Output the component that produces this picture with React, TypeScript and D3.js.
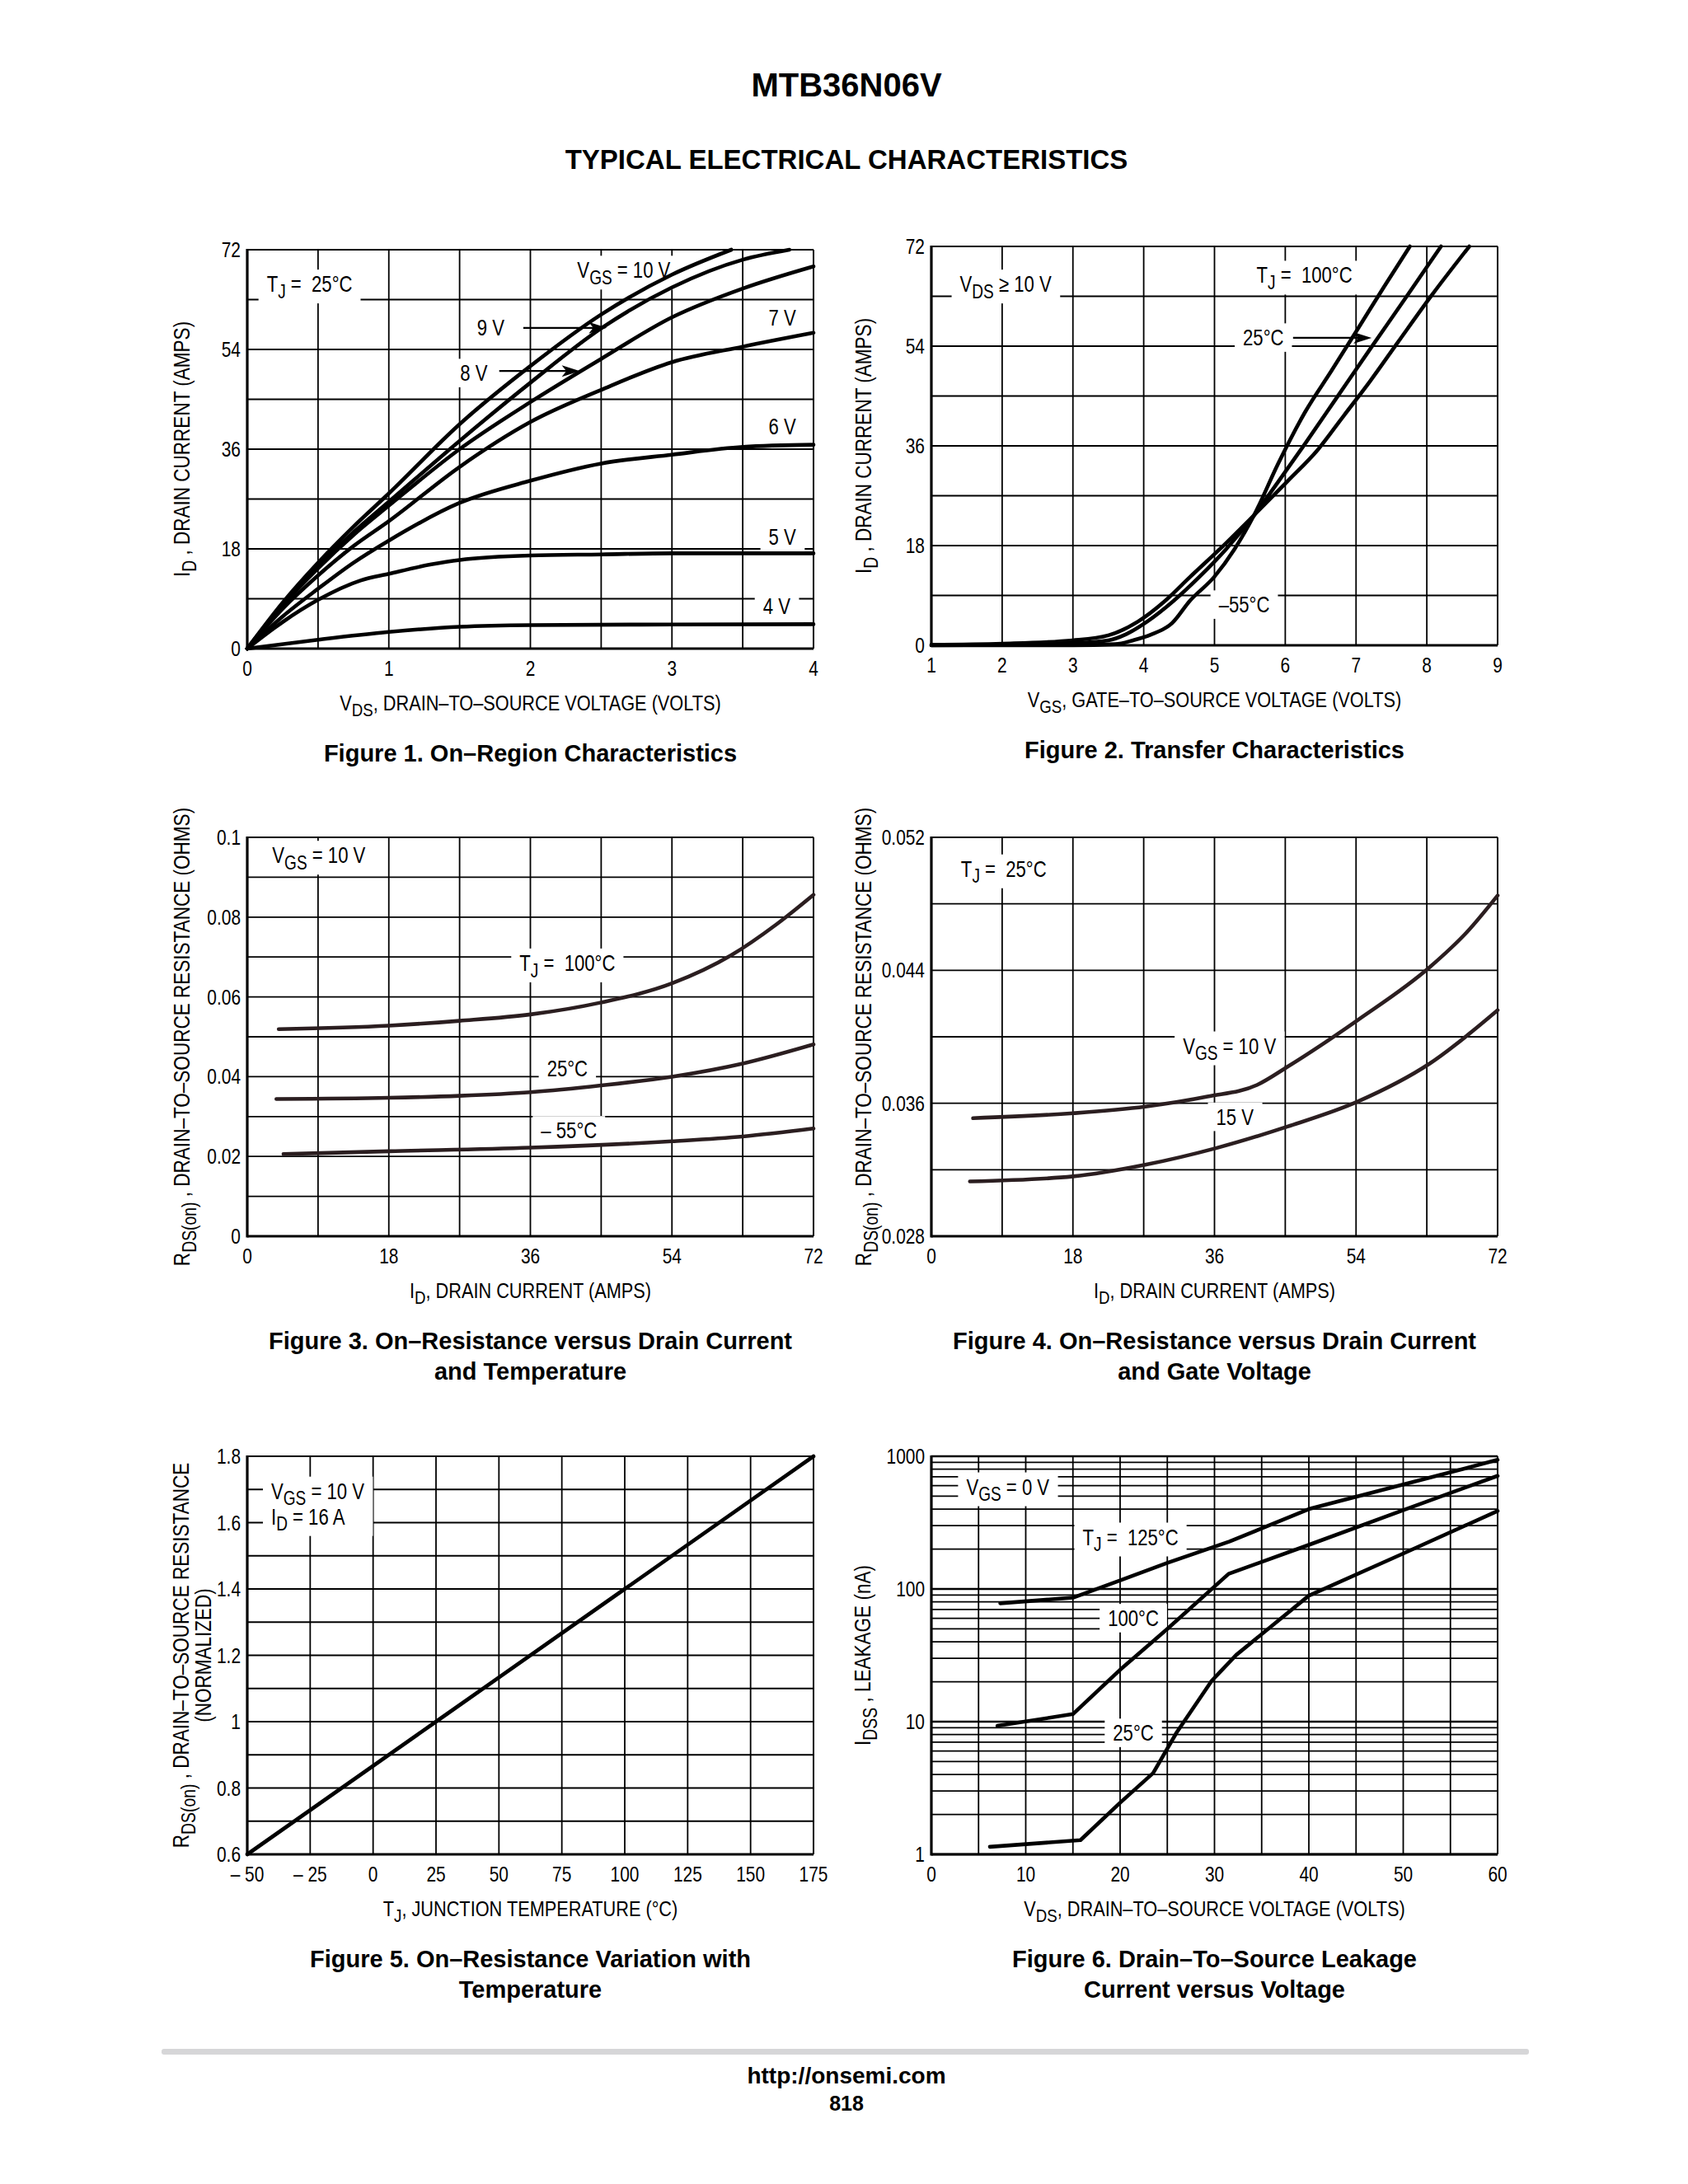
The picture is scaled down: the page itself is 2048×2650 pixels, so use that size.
import * as d3 from "d3";
import { useEffect, useRef } from "react";

type Pt = [number, number];
type Seg = [string, number?];
type Label = { x: number; y: number; segs: Seg[]; group?: string; anchor?: string };
type Arrow = { from: Pt; to: Pt };

const sub = (a: string, b: string, c: string): Seg[] => [[a], [b, 1], [c]];

// ---- Figure 1: on-region characteristics (VDS volts, ID amps)
const f1Vgs10: Pt[] = [[0, 0], [0.25, 8.3], [0.5, 15.5], [0.75, 22], [1, 28], [1.5, 40.5], [2, 51], [2.5, 60.3], [3, 67.5], [3.42, 72]];
const f1Vgs9: Pt[] = [[0, 0], [0.25, 8], [0.5, 15], [0.75, 21], [1, 26.5], [1.5, 37.5], [2, 48], [2.5, 57.8], [3, 65.2], [3.5, 70.2], [3.83, 72]];
const f1Vgs8: Pt[] = [[0, 0], [0.25, 7.8], [0.5, 14.5], [0.75, 20.5], [1, 25.8], [1.5, 36], [2, 44.5], [2.5, 52.3], [3, 59.8], [3.5, 65], [4, 69]];
const f1Vgs7: Pt[] = [[0, 0], [0.25, 7.2], [0.5, 13.2], [0.75, 18.5], [1, 23], [1.5, 32.8], [2, 40.9], [2.5, 46.7], [3, 51.7], [3.5, 54.5], [4, 57]];
const f1Vgs6: Pt[] = [[0, 0], [0.25, 5.8], [0.5, 10.8], [0.75, 15.5], [1, 19.5], [1.5, 26.3], [2, 30.3], [2.5, 33.4], [3, 35], [3.5, 36.4], [4, 36.8]];
const f1Vgs5: Pt[] = [[0, 0], [0.25, 4.8], [0.5, 8.8], [0.8, 12.3], [1, 13.5], [1.3, 15.2], [1.5, 16], [2, 16.8], [2.5, 17], [3, 17.2], [4, 17.2]];
const f1Vgs4: Pt[] = [[0, 0], [0.5, 1.6], [1, 3], [1.5, 3.95], [2, 4.25], [3, 4.35], [4, 4.4]];
const f1XTicks = [0, 1, 2, 3, 4];
const f1YTicks = [0, 18, 36, 54, 72];
const f1Labels: Label[] = [
  { x: 0.44, y: 65.8, segs: sub("T", "J", " =  25°C") },
  { x: 2.66, y: 68.3, segs: sub("V", "GS", " = 10 V") },
  { x: 1.72, y: 57.9, segs: [["9 V"]] },
  { x: 1.6, y: 49.7, segs: [["8 V"]] },
  { x: 3.78, y: 59.7, segs: [["7 V"]] },
  { x: 3.78, y: 40.1, segs: [["6 V"]] },
  { x: 3.78, y: 20.2, segs: [["5 V"]] },
  { x: 3.74, y: 7.7, segs: [["4 V"]] },
];
const f1Arrows: Arrow[] = [
  { from: [1.95, 57.9], to: [2.54, 57.9] },
  { from: [1.78, 50.1], to: [2.35, 50.1] },
];

// ---- Figure 2: transfer characteristics (VGS volts, ID amps)
const f2T100: Pt[] = [[1, 0.1], [2, 0.3], [3, 0.9], [3.5, 1.8], [3.92, 4.3], [4.3, 8], [4.66, 12.4], [5.07, 17.3], [5.56, 23.5], [6.03, 29.6], [6.46, 35.3], [6.83, 41.5], [7.2, 47.7], [7.58, 54.5], [8.07, 63.2], [8.6, 72]];
const f2T25: Pt[] = [[1, 0], [2, 0.1], [3, 0.4], [3.5, 0.9], [3.75, 2], [4.05, 4.3], [4.42, 8], [4.79, 12.4], [5.16, 17.3], [5.56, 23.5], [5.9, 29.5], [6.28, 36.4], [6.7, 44.2], [7.2, 53.5], [7.7, 62.7], [8.2, 72]];
const f2Tm55: Pt[] = [[1, 0], [3, 0], [3.6, 0.2], [3.85, 0.9], [4.1, 1.9], [4.4, 4], [4.65, 8], [5, 12.4], [5.28, 17.3], [5.56, 23.5], [5.9, 32.8], [6.28, 42.1], [6.65, 49.5], [7.02, 57], [7.39, 64.6], [7.76, 72]];
const f2XTicks = [1, 2, 3, 4, 5, 6, 7, 8, 9];
const f2YTicks = [0, 18, 36, 54, 72];
const f2Labels: Label[] = [
  { x: 2.05, y: 65.2, segs: sub("V", "DS", " ≥ 10 V") },
  { x: 6.27, y: 66.8, segs: sub("T", "J", " =  100°C") },
  { x: 5.69, y: 55.5, segs: [["25°C"]] },
  { x: 5.42, y: 7.3, segs: [["–55°C"]] },
];
const f2Arrows: Arrow[] = [{ from: [6.11, 55.5], to: [7.22, 55.5] }];

// ---- Figure 3: on-resistance vs drain current and temperature
const f3T100: Pt[] = [[4, 0.0519], [18, 0.0528], [27, 0.054], [36, 0.0556], [45, 0.0586], [54, 0.0634], [61.5, 0.0704], [67.3, 0.0782], [72, 0.0856]];
const f3T25: Pt[] = [[3.7, 0.0344], [18, 0.0347], [27, 0.0352], [36, 0.0361], [45, 0.0378], [54, 0.04], [63, 0.0433], [72, 0.0481]];
const f3Tm55: Pt[] = [[4.6, 0.0206], [18, 0.0213], [36, 0.0222], [54, 0.0238], [63, 0.025], [72, 0.027]];
const f3XTicks = [0, 18, 36, 54, 72];
const f3YTicks = [0, 0.02, 0.04, 0.06, 0.08, 0.1];
const f3Labels: Label[] = [
  { x: 9.1, y: 0.0955, segs: sub("V", "GS", " = 10 V") },
  { x: 40.7, y: 0.0685, segs: sub("T", "J", " =  100°C") },
  { x: 40.7, y: 0.042, segs: [["25°C"]] },
  { x: 40.9, y: 0.0265, segs: [["– 55°C"]] },
];

// ---- Figure 4: on-resistance vs drain current and gate voltage
const f4V10: Pt[] = [[5.3, 0.0351], [18, 0.0354], [27.2, 0.0358], [35.1, 0.0364], [41.4, 0.0371], [45.3, 0.0382], [54.2, 0.041], [63.4, 0.0442], [68.1, 0.0463], [72, 0.0485]];
const f4V15: Pt[] = [[4.9, 0.0313], [18, 0.0316], [27.2, 0.0323], [36.2, 0.0333], [45.3, 0.0346], [54.2, 0.0361], [63.4, 0.0384], [72, 0.0416]];
const f4XTicks = [0, 18, 36, 54, 72];
const f4YTicks = [0.028, 0.036, 0.044, 0.052];
const f4Labels: Label[] = [
  { x: 9.2, y: 0.0501, segs: sub("T", "J", " =  25°C") },
  { x: 37.9, y: 0.03945, segs: sub("V", "GS", " = 10 V") },
  { x: 38.6, y: 0.03517, segs: [["15 V"]] },
];

// ---- Figure 5: normalized on-resistance vs junction temperature
const f5Line: Pt[] = [[-50, 0.6], [25, 1.0], [100, 1.4], [175, 1.8]];
const f5XTicks = [-50, -25, 0, 25, 50, 75, 100, 125, 150, 175];
const f5YTicks = [0.6, 0.8, 1, 1.2, 1.4, 1.6, 1.8];
const f5Labels: Label[] = [
  { x: -40.5, y: 1.695, segs: sub("V", "GS", " = 10 V"), group: "a", anchor: "start" },
  { x: -40.5, y: 1.618, segs: sub("I", "D", " = 16 A"), group: "a", anchor: "start" },
];

// ---- Figure 6: drain-to-source leakage (VDS volts, IDSS nA)
const f6T125: Pt[] = [[7.3, 78], [15, 86], [20, 116], [25, 157], [31.6, 228], [40, 400], [50, 612], [60, 940]];
const f6T100: Pt[] = [[7, 9.3], [15, 11.4], [20, 24.6], [25, 50], [31.5, 130], [40, 215], [50, 393], [60, 712]];
const f6T25: Pt[] = [[6.2, 1.14], [15.8, 1.28], [20, 2.45], [23.5, 4.1], [26, 8.3], [29.7, 20.3], [32.3, 31.8], [40, 89], [50, 185], [60, 387]];
const f6XTicks = [0, 10, 20, 30, 40, 50, 60];
const f6YTicks = [1, 10, 100, 1000];
const f6Labels: Label[] = [
  { x: 8.1, y: 588, segs: sub("V", "GS", " = 0 V") },
  { x: 21.1, y: 246, segs: sub("T", "J", " =  125°C") },
  { x: 21.4, y: 60, segs: [["100°C"]] },
  { x: 21.4, y: 8.2, segs: [["25°C"]] },
];

const BOLD = "'Liberation Sans', Arial, Helvetica, sans-serif";

type Panel = {
  box: [number, number, number, number];
  xd: [number, number];
  yd: [number, number];
  log?: boolean;
  xGrid: number[];
  yGrid: number[];
  major?: number[];
  xTicks: number[];
  yTicks: number[];
  curves: Pt[][];
  curve: d3.CurveFactory;
  color: string;
  labels: Label[];
  arrows: Arrow[];
  xTitle: Seg[];
  yTitle: Seg[][];
  yTitleX: number[];
  caption: string[];
};

const fmtTick = (v: number) => (v < 0 ? "– " + String(-v) : String(v));

export default function App() {
  const ref = useRef<SVGSVGElement>(null);

  useEffect(() => {
    document.body.style.margin = "0";
    const svg = d3.select(ref.current);
    svg.selectAll("*").remove();

    // condensed face if installed, otherwise squeeze the regular one
    const ctx = document.createElement("canvas").getContext("2d")!;
    ctx.font = "100px 'Liberation Sans Narrow', monospace";
    const w1 = ctx.measureText("ABCDEFGH").width;
    ctx.font = "100px monospace";
    const w2 = ctx.measureText("ABCDEFGH").width;
    const hasNarrow = Math.abs(w1 - w2) > 0.5;
    const NFAM = hasNarrow ? "'Liberation Sans Narrow'" : "'Liberation Sans', Arial";
    const SX = hasNarrow ? 1 : 0.82;

    const addText = (
      parent: d3.Selection<any, unknown, null, undefined>,
      x: number,
      y: number,
      segs: Seg[],
      o: { size: number; anchor?: string; rotate?: number; bold?: boolean }
    ) => {
      const narrow = !o.bold;
      const t = parent
        .append("text")
        .attr(
          "transform",
          `translate(${x},${y})${o.rotate ? ` rotate(${o.rotate})` : ""}${narrow && SX !== 1 ? ` scale(${SX},1)` : ""}`
        )
        .attr("font-family", narrow ? NFAM : BOLD)
        .attr("font-weight", o.bold ? "bold" : "normal")
        .attr("font-size", o.size)
        .attr("text-anchor", o.anchor || "middle")
        .attr("fill", "#000")
        .style("white-space", "pre");
      let shift = 0;
      segs.forEach(([s, isSub]) => {
        const target = isSub ? o.size * 0.28 : 0;
        t.append("tspan")
          .attr("dy", target - shift)
          .attr("font-size", isSub ? o.size * 0.86 : o.size)
          .text(s);
        shift = target;
      });
      return t;
    };

    const gGrid = svg.append("g");
    const gBox = svg.append("g");
    const gFrame = svg.append("g");
    const gCurve = svg.append("g");
    const gText = svg.append("g");

    // page header & footer
    addText(gText, 1027, 117, [["MTB36N06V"]], { size: 40, bold: true });
    addText(gText, 1027, 205, [["TYPICAL ELECTRICAL CHARACTERISTICS"]], { size: 33, bold: true });
    gFrame.append("rect").attr("x", 196).attr("y", 2486).attr("width", 1659).attr("height", 7).attr("rx", 3).attr("fill", "#d6d6d8");
    addText(gText, 1027, 2528, [["http://onsemi.com"]], { size: 28, bold: true });
    addText(gText, 1027, 2561, [["818"]], { size: 25, bold: true });

    const panels: Panel[] = [
      {
        box: [300, 303, 987, 787], xd: [0, 4], yd: [0, 72],
        xGrid: d3.range(0, 4.001, 0.5), yGrid: d3.range(0, 72.1, 9),
        xTicks: f1XTicks, yTicks: f1YTicks,
        curves: [f1Vgs10, f1Vgs9, f1Vgs8, f1Vgs7, f1Vgs6, f1Vgs5, f1Vgs4], curve: d3.curveMonotoneX, color: "#000",
        labels: f1Labels, arrows: f1Arrows,
        xTitle: sub("V", "DS", ", DRAIN–TO–SOURCE VOLTAGE (VOLTS)"),
        yTitle: [sub("I", "D", " , DRAIN CURRENT (AMPS)")], yTitleX: [220],
        caption: ["Figure 1. On–Region Characteristics"],
      },
      {
        box: [1130, 299, 1817, 783], xd: [1, 9], yd: [0, 72],
        xGrid: d3.range(1, 9.001, 1), yGrid: d3.range(0, 72.1, 9),
        xTicks: f2XTicks, yTicks: f2YTicks,
        curves: [f2T100, f2T25, f2Tm55], curve: d3.curveMonotoneX, color: "#000",
        labels: f2Labels, arrows: f2Arrows,
        xTitle: sub("V", "GS", ", GATE–TO–SOURCE VOLTAGE (VOLTS)"),
        yTitle: [sub("I", "D", " , DRAIN CURRENT (AMPS)")], yTitleX: [1047],
        caption: ["Figure 2. Transfer Characteristics"],
      },
      {
        box: [300, 1016, 987, 1500], xd: [0, 72], yd: [0, 0.1],
        xGrid: d3.range(0, 72.1, 9), yGrid: d3.range(0, 0.1001, 0.01),
        xTicks: f3XTicks, yTicks: f3YTicks,
        curves: [f3T100, f3T25, f3Tm55], curve: d3.curveMonotoneX, color: "#2b1e20",
        labels: f3Labels, arrows: [],
        xTitle: sub("I", "D", ", DRAIN CURRENT (AMPS)"),
        yTitle: [sub("R", "DS(on)", " , DRAIN–TO–SOURCE RESISTANCE (OHMS)")], yTitleX: [220],
        caption: ["Figure 3. On–Resistance versus Drain Current", "and Temperature"],
      },
      {
        box: [1130, 1016, 1817, 1500], xd: [0, 72], yd: [0.028, 0.052],
        xGrid: d3.range(0, 72.1, 9), yGrid: d3.range(0.028, 0.05201, 0.004),
        xTicks: f4XTicks, yTicks: f4YTicks,
        curves: [f4V10, f4V15], curve: d3.curveMonotoneX, color: "#2b1e20",
        labels: f4Labels, arrows: [],
        xTitle: sub("I", "D", ", DRAIN CURRENT (AMPS)"),
        yTitle: [sub("R", "DS(on)", " , DRAIN–TO–SOURCE RESISTANCE (OHMS)")], yTitleX: [1047],
        caption: ["Figure 4. On–Resistance versus Drain Current", "and Gate Voltage"],
      },
      {
        box: [300, 1767, 987, 2250], xd: [-50, 175], yd: [0.6, 1.8],
        xGrid: d3.range(-50, 175.1, 25), yGrid: d3.range(0.6, 1.801, 0.1),
        xTicks: f5XTicks, yTicks: f5YTicks,
        curves: [f5Line], curve: d3.curveLinear, color: "#000",
        labels: f5Labels, arrows: [],
        xTitle: sub("T", "J", ", JUNCTION TEMPERATURE (°C)"),
        yTitle: [sub("R", "DS(on)", " , DRAIN–TO–SOURCE RESISTANCE"), [["(NORMALIZED)"]]], yTitleX: [219, 246],
        caption: ["Figure 5. On–Resistance Variation with", "Temperature"],
      },
      {
        box: [1130, 1767, 1817, 2250], xd: [0, 60], yd: [1, 1000], log: true,
        xGrid: d3.range(0, 60.1, 5), yGrid: d3.scaleLog().domain([1, 1000]).ticks(), major: [1, 10, 100, 1000],
        xTicks: f6XTicks, yTicks: f6YTicks,
        curves: [f6T125, f6T100, f6T25], curve: d3.curveLinear, color: "#000",
        labels: f6Labels, arrows: [],
        xTitle: sub("V", "DS", ", DRAIN–TO–SOURCE VOLTAGE (VOLTS)"),
        yTitle: [sub("I", "DSS", " , LEAKAGE (nA)")], yTitleX: [1046],
        caption: ["Figure 6. Drain–To–Source Leakage", "Current versus Voltage"],
      },
    ];

    panels.forEach((p) => {
      const [x0, y0, x1, y1] = p.box;
      const x = d3.scaleLinear().domain(p.xd).range([x0, x1]);
      const y = (p.log ? d3.scaleLog() : d3.scaleLinear()).domain(p.yd).range([y1, y0]);

      // grid
      gGrid.append("g").selectAll("line").data(p.xGrid).join("line")
        .attr("x1", (d) => x(d)).attr("x2", (d) => x(d)).attr("y1", y0).attr("y2", y1)
        .attr("stroke", "#000").attr("stroke-width", 1.8);
      gGrid.append("g").selectAll("line").data(p.yGrid).join("line")
        .attr("x1", x0).attr("x2", x1).attr("y1", (d) => y(d)).attr("y2", (d) => y(d))
        .attr("stroke", "#000")
        .attr("stroke-width", (d) => (p.major && p.major.includes(d) ? 2.6 : 1.8));

      // frame
      const fr = gFrame.append("g").attr("stroke", "#000");
      fr.append("line").attr("x1", x0).attr("x2", x1).attr("y1", y0).attr("y2", y0).attr("stroke-width", 2);
      fr.append("line").attr("x1", x1).attr("x2", x1).attr("y1", y0).attr("y2", y1).attr("stroke-width", 2);
      fr.append("line").attr("x1", x0).attr("x2", x1).attr("y1", y1).attr("y2", y1).attr("stroke-width", 3);
      fr.append("line").attr("x1", x0).attr("x2", x0).attr("y1", y0 - 1).attr("y2", y1 + 1.5).attr("stroke-width", 3.2);

      // curves
      const line = d3.line<Pt>().x((d) => x(d[0])).y((d) => y(d[1])).curve(p.curve);
      p.curves.forEach((c) => {
        gCurve.append("path").attr("d", line(c)).attr("fill", "none")
          .attr("stroke", p.color).attr("stroke-width", 4.6)
          .attr("stroke-linecap", "round").attr("stroke-linejoin", "round");
      });

      // arrows
      p.arrows.forEach((a) => {
        const ax = x(a.from[0]), ay = y(a.from[1]);
        const bx = x(a.to[0]), by = y(a.to[1]);
        const len = Math.hypot(bx - ax, by - ay);
        const ux = (bx - ax) / len, uy = (by - ay) / len;
        const hl = 22, hw = 7;
        gCurve.append("line").attr("x1", ax).attr("y1", ay).attr("x2", bx - ux * hl * 0.6).attr("y2", by - uy * hl * 0.6)
          .attr("stroke", "#000").attr("stroke-width", 2.2);
        gCurve.append("path")
          .attr("d", `M${bx},${by}L${bx - ux * hl - uy * hw},${by - uy * hl + ux * hw}L${bx - ux * hl * 0.75},${by - uy * hl * 0.75}L${bx - ux * hl + uy * hw},${by - uy * hl - ux * hw}Z`)
          .attr("fill", "#000");
      });

      // tick labels
      p.xTicks.forEach((v) => addText(gText, x(v), y1 + 33, [[fmtTick(v)]], { size: 25.5 }));
      p.yTicks.forEach((v) => addText(gText, x0 - 8, y(v) + 9, [[fmtTick(v)]], { size: 25.5, anchor: "end" }));

      // titles
      const cx = (x0 + x1) / 2, cy = (y0 + y1) / 2;
      addText(gText, cx, y1 + 75, p.xTitle, { size: 26.5 });
      p.yTitle.forEach((segs, i) => addText(gText, p.yTitleX[i] + 10, cy, segs, { size: 27.5, rotate: -90 }));
      p.caption.forEach((c, i) => addText(gText, cx, y1 + 137 + i * 37, [[c]], { size: 29, bold: true }));

      // labels with white knock-out boxes
      const boxes: Record<string, [number, number, number, number]> = {};
      p.labels.forEach((l, i) => {
        const tx = x(l.x), ty = y(l.y) + 9.5;
        const t = addText(gText, tx, ty, l.segs, { size: 27, anchor: l.anchor || "middle" });
        const bb = (t.node() as SVGTextElement).getBBox();
        const r: [number, number, number, number] = [tx + bb.x * SX - 10, ty + bb.y - 3, tx + (bb.x + bb.width) * SX + 10, ty + bb.y + bb.height + 2];
        const key = l.group || "L" + i;
        const prev = boxes[key];
        boxes[key] = prev ? [Math.min(prev[0], r[0]), Math.min(prev[1], r[1]), Math.max(prev[2], r[2]), Math.max(prev[3], r[3])] : r;
      });
      Object.values(boxes).forEach(([a, b, c, d]) => {
        gBox.append("rect").attr("x", a).attr("y", b).attr("width", c - a).attr("height", d - b).attr("fill", "#fff");
      });
    });
  }, []);

  return <svg ref={ref} width={2048} height={2650} style={{ display: "block", background: "#fff" }} />;
}
